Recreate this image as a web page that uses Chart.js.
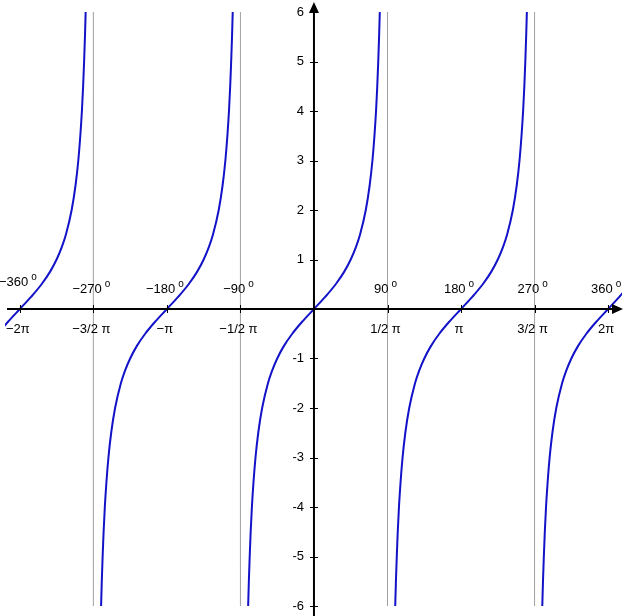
<!DOCTYPE html>
<html>
<head>
<meta charset="utf-8">
<script src="https://cdn.jsdelivr.net/npm/chart.js@4/dist/chart.umd.min.js"></script>
<style>
  body { margin: 0; background: #fff; }
  #wrap { width: 624px; height: 616px; }
</style>
</head>
<body>
<div id="wrap"><canvas id="tanChart"></canvas></div>
<script>
const PI = Math.PI;

// one branch of the curve: offset from the branch centre (rad) -> y
const branchOffsets = [-1.406, -1.391, -1.373, -1.352, -1.326, -1.292, -1.249, -1.190, -1.107, -0.983, -0.896, -0.785, -0.644, -0.464, -0.245, 0,
                        0.245, 0.464, 0.644, 0.785, 0.896, 0.983, 1.107, 1.190, 1.249, 1.292, 1.326, 1.352, 1.373, 1.391, 1.406];
const branchValues = [-6, -5.5, -5, -4.5, -4, -3.5, -3, -2.5, -2, -1.5, -1.25, -1, -0.75, -0.5, -0.25, 0,
                       0.25, 0.5, 0.75, 1, 1.25, 1.5, 2, 2.5, 3, 3.5, 4, 4.5, 5, 5.5, 6];
const branchCentres = [-2 * PI, -PI, 0, PI, 2 * PI];
const asymptotes = [-1.5 * PI, -0.5 * PI, 0.5 * PI, 1.5 * PI];

// tick labels
const piTicks = [-2 * PI, -1.5 * PI, -PI, -0.5 * PI, 0.5 * PI, PI, 1.5 * PI, 2 * PI];
const piLabels = ['−2π', '−3/2 π', '−π', '−1/2 π', '1/2 π', 'π', '3/2 π', '2π'];
const degreeLabels = ['−360', '−270', '−180', '−90', '90', '180', '270', '360'];
const yTicks = [-6, -5, -4, -3, -2, -1, 1, 2, 3, 4, 5, 6];

const FONT = '"Liberation Sans", Arial, sans-serif';

// build the datasets
const datasets = [];
branchCentres.forEach(c => {
    datasets.push({
        data: branchOffsets.map((d, i) => ({ x: c + d, y: branchValues[i] })),
        borderColor: '#1212c8',
        borderWidth: 2,
        pointRadius: 0,
        showLine: true,
        cubicInterpolationMode: 'monotone'
    });
});
asymptotes.forEach(a => {
    datasets.push({
        data: [{ x: a, y: -6 }, { x: a, y: 6 }],
        borderColor: '#a0a0a0',
        borderWidth: 1,
        pointRadius: 0,
        showLine: true
    });
});

// axes, arrows, ticks and labels
const axesPlugin = {
    id: 'axes',
    afterDatasetsDraw(chart) {
        const { ctx, chartArea, scales: { x, y } } = chart;
        const x0 = x.getPixelForValue(0);
        const y0 = y.getPixelForValue(0);
        ctx.save();
        ctx.strokeStyle = '#000';
        ctx.fillStyle = '#000';

        // main axes
        ctx.lineWidth = 2;
        ctx.beginPath();
        ctx.moveTo(chartArea.left + 2, y0);
        ctx.lineTo(chartArea.right - 8, y0);
        ctx.moveTo(x0, chart.height);
        ctx.lineTo(x0, chartArea.top - 2);
        ctx.stroke();

        // arrow heads
        ctx.beginPath();
        ctx.moveTo(chartArea.right + 1, y0);
        ctx.lineTo(chartArea.right - 10, y0 - 5);
        ctx.lineTo(chartArea.right - 10, y0 + 5);
        ctx.closePath();
        ctx.moveTo(x0, chartArea.top - 10);
        ctx.lineTo(x0 - 5, chartArea.top + 1);
        ctx.lineTo(x0 + 5, chartArea.top + 1);
        ctx.closePath();
        ctx.fill();

        // tick marks
        ctx.lineWidth = 1;
        ctx.beginPath();
        piTicks.forEach(v => {
            const px = Math.round(x.getPixelForValue(v)) + 0.5;
            ctx.moveTo(px, y0 - 4);
            ctx.lineTo(px, y0 + 4);
        });
        yTicks.forEach(v => {
            const py = Math.round(y.getPixelForValue(v)) + 0.5;
            ctx.moveTo(x0 - 4, py);
            ctx.lineTo(x0 + 4, py);
        });
        ctx.stroke();

        // y labels
        ctx.font = '13px ' + FONT;
        ctx.textAlign = 'right';
        ctx.textBaseline = 'middle';
        yTicks.forEach(v => {
            ctx.fillText(String(v), x0 - 10, y.getPixelForValue(v));
        });

        // pi labels below the axis
        ctx.textAlign = 'center';
        piTicks.forEach((v, i) => {
            ctx.fillText(piLabels[i], x.getPixelForValue(v) - 2, y0 + 20);
        });

        // degree labels above the axis, with a raised "o"
        ctx.textAlign = 'left';
        piTicks.forEach((v, i) => {
            ctx.font = '13px ' + FONT;
            const wN = ctx.measureText(degreeLabels[i]).width;
            ctx.font = '10px ' + FONT;
            const wO = ctx.measureText('o').width;
            const total = wN + 3 + wO;
            const start = x.getPixelForValue(v) - 2 - total / 2;
            const raise = i === 0 ? 7 : 0;
            ctx.font = '13px ' + FONT;
            ctx.fillText(degreeLabels[i], start, y0 - 20 - raise);
            ctx.font = '10px ' + FONT;
            ctx.fillText('o', start + wN + 3, y0 - 25 - raise);
        });

        ctx.restore();
    }
};

new Chart(document.getElementById('tanChart'), {
    type: 'scatter',
    data: { datasets: datasets },
    options: {
        responsive: true,
        maintainAspectRatio: false,
        animation: false,
        layout: { padding: { left: 5, right: 2, top: 12, bottom: 10 } },
        plugins: { legend: { display: false }, tooltip: { enabled: false } },
        scales: {
            x: { type: 'linear', min: -6.60, max: 6.58, display: false },
            y: { type: 'linear', min: -6, max: 6, display: false }
        }
    },
    plugins: [axesPlugin]
});
</script>
</body>
</html>
